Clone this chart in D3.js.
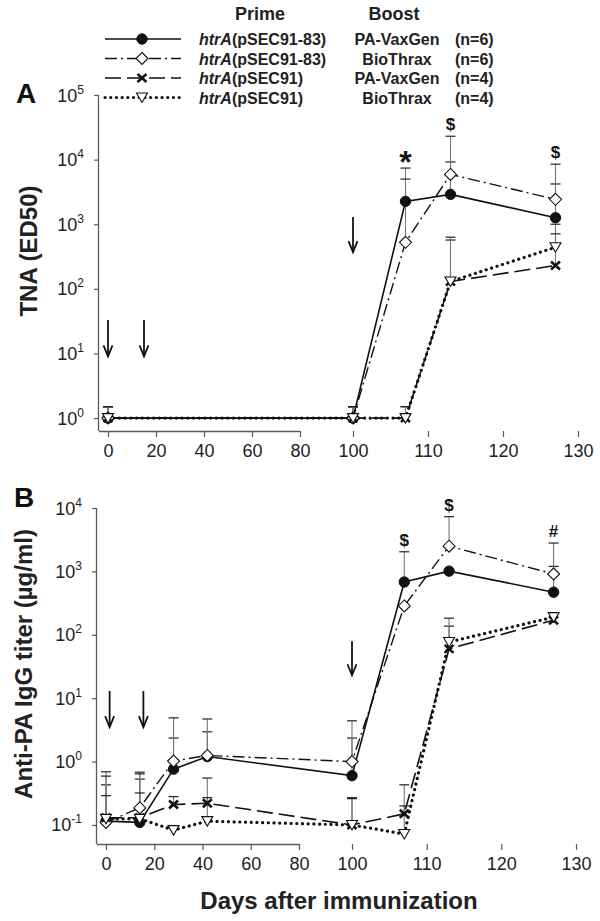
<!DOCTYPE html>
<html><head><meta charset="utf-8">
<script src="https://cdn.jsdelivr.net/npm/d3@7"></script>
<style>
body{margin:0;background:#fff;}
svg{display:block;font-family:"Liberation Sans",Arial,sans-serif;}
</style></head><body>
<svg id="chart" width="600" height="921"></svg>
<script>
// ---------- DATA ----------
const tickDays = [0,20,40,60,80,100,110,120,130];
const primeLabels = ["htrA(pSEC91-83)","htrA(pSEC91-83)","htrA(pSEC91)","htrA(pSEC91)"];
const boostLabels = ["PA-VaxGen","BioThrax","PA-VaxGen","BioThrax"];
const nLabels = ["(n=6)","(n=6)","(n=4)","(n=4)"];

// Panel A: TNA (ED50)
const daysA = [0,100,107,113,127];
const tnaS1 = [1,1,2260,2900,1260];
const tnaS2 = [1,1,525,5900,2430];
const tnaS3 = [1,1,1,130,230];
const tnaS4 = [1,1,1,130,440];
const tnaErrS1 = [1.5,1.5,7400,9200,4200];
const tnaErrS2 = [1.5,1.5,5000,23000,8500];
const tnaErrS3 = [1.5,1.5,1.5,570,1000];
const tnaErrS4 = [1.5,1.5,1.5,630,710];
const tnaTicks = [1,10,100,1000,10000,100000];
const tnaAnnot = [{day:107,label:"*"},{day:113,label:"$"},{day:127,label:"$"}];
const tnaArrows = [{day:0,from:33,to:9},{day:15,from:33,to:9},{day:100,from:1290,to:370}];

// Panel B: Anti-PA IgG titer
const daysB = [0,14,28,42,100,107,113,127];
const igS1 = [0.115,0.11,0.76,1.2,0.6,680,1010,470];
const igS2 = [0.11,0.186,1.02,1.25,1.0,285,2500,910];
const igS3 = [0.13,0.13,0.21,0.22,0.1,0.15,60,170];
const igS4 = [0.125,0.125,0.083,0.115,0.1,0.072,77,190];
const igErrS1 = [0.43,0.53,2.35,2.95,2.35,2040,null,1200];
const igErrS2 = [0.69,0.68,4.9,4.7,4.4,null,7300,2800];
const igErrS3 = [0.59,0.64,0.28,0.55,0.27,0.43,137,null];
const igErrS4 = [0.29,0.32,null,0.27,0.26,0.2,183,null];
const igTicks = [0.1,1,10,100,1000,10000];
const igAnnot = [{day:107,label:"$"},{day:113,label:"$"},{day:127,label:"#"}];
const igArrows = [{day:1.5,from:13,to:3.5},{day:15.5,from:13,to:3.5},{day:100,from:79,to:23}];

// ---------- STYLE ----------
const styles = [
  {dash:null, width:1.6, cap:"butt", marker:"circle"},
  {dash:"12,4,2,4", width:1.4, cap:"butt", marker:"diamond"},
  {dash:"16,6", width:1.6, cap:"butt", marker:"cross"},
  {dash:"0.1,5.6", width:3.2, cap:"round", marker:"triangle"}
];
const axisColor = "#5a5a5a";
const svg = d3.select("#chart");

function drawMarker(g, type, cx, cy){
  if(type==="circle"){
    g.append("circle").attr("cx",cx).attr("cy",cy).attr("r",5.2).attr("fill","#111").attr("stroke","#111");
  } else if(type==="diamond"){
    g.append("path").attr("d",`M${cx},${cy-6}L${cx+6},${cy}L${cx},${cy+6}L${cx-6},${cy}Z`)
      .attr("fill","#fff").attr("stroke","#111").attr("stroke-width",1.1);
  } else if(type==="triangle"){
    g.append("path").attr("d",`M${cx-5.5},${cy-4.5}L${cx+5.5},${cy-4.5}L${cx},${cy+5}Z`)
      .attr("fill","#fff").attr("stroke","#111").attr("stroke-width",1.1);
  } else {
    g.append("path").attr("d",`M${cx-4.5},${cy-4}L${cx+4.5},${cy+4}M${cx+4.5},${cy-4}L${cx-4.5},${cy+4}`)
      .attr("stroke","#111").attr("stroke-width",2.6).attr("fill","none");
  }
}

function panel(cfg){
  const {xRange, yRange, yDomain, days, series, errs, ticks, annot, arrows, axisX, yTitle, yTitleX, yTitleY, letter, letterX, letterY} = cfg;
  const x = d3.scaleLinear().domain([0,80,100,130]).range(xRange);
  const y = d3.scaleLog().domain(yDomain).range(yRange);
  const g = svg.append("g");

  const xa = g.append("g").attr("transform",`translate(0,${yRange[0]})`)
    .call(d3.axisBottom(x).tickValues(tickDays).tickSize(6).tickPadding(7).tickSizeOuter(0));
  xa.select(".domain").attr("d",`M${axisX},0.5H${xRange[1]}`).attr("stroke",axisColor).attr("stroke-width",1.3);
  xa.selectAll(".tick line").attr("stroke",axisColor).attr("stroke-width",1.2);
  xa.selectAll(".tick text").attr("font-size",18).attr("fill","#222").attr("font-family","Liberation Sans, Arial, sans-serif");

  const ya = g.append("g").attr("transform",`translate(${axisX},0)`)
    .call(d3.axisLeft(y).tickValues(ticks).tickSize(5).tickFormat("").tickSizeOuter(0));
  ya.select(".domain").attr("d",`M-0.5,${yRange[1]}V${yRange[0]}`).attr("stroke",axisColor).attr("stroke-width",1.3);
  ya.selectAll(".tick line").attr("stroke",axisColor).attr("stroke-width",1.2);
  ticks.forEach(t=>{
    const e = Math.round(Math.log10(t));
    const tx = g.append("text").attr("x",axisX-15).attr("y",y(t)+6.5).attr("text-anchor","end")
      .attr("font-size",18).attr("fill","#222");
    tx.append("tspan").text("10");
    tx.append("tspan").attr("font-size",12).attr("dy",-8).text(e);
  });

  series.forEach((vals,i)=>{
    const st = styles[i];
    const line = d3.line().x((d,j)=>x(days[j])).y(d=>y(d));
    g.append("path").datum(vals).attr("d",line).attr("fill","none").attr("stroke","#111")
      .attr("stroke-width",st.width).attr("stroke-dasharray",st.dash).attr("stroke-linecap",st.cap);
  });
  errs.forEach((ev,i)=>{
    ev.forEach((e,j)=>{
      if(e==null) return;
      const cx = x(days[j]);
      g.append("line").attr("x1",cx).attr("x2",cx).attr("y1",y(series[i][j])).attr("y2",y(e))
        .attr("stroke","#777").attr("stroke-width",1.1);
      g.append("line").attr("x1",cx-5).attr("x2",cx+5).attr("y1",y(e)).attr("y2",y(e))
        .attr("stroke","#222").attr("stroke-width",1.2);
    });
  });
  series.forEach((vals,i)=>{
    vals.forEach((v,j)=>drawMarker(g, styles[i].marker, x(days[j]), y(v)));
  });
  annot.forEach(a=>{
    const j = days.indexOf(a.day);
    const top = d3.max(errs.map((ev,i)=> ev[j]!=null ? ev[j] : series[i][j]));
    const cy = y(top) - 12;
    if(a.label==="*"){
      g.append("text").attr("x",x(a.day)).attr("y",cy+17).attr("text-anchor","middle")
        .attr("font-size",32).attr("font-weight","bold").attr("fill","#111").text("*");
    } else {
      g.append("text").attr("x",x(a.day)).attr("y",cy+6).attr("text-anchor","middle")
        .attr("font-size",17).attr("font-weight","bold").attr("fill","#111").text(a.label);
    }
  });
  arrows.forEach(a=>{
    const ax = x(a.day), y1 = y(a.from), y2 = y(a.to);
    g.append("line").attr("x1",ax).attr("x2",ax).attr("y1",y1).attr("y2",y2)
      .attr("stroke","#111").attr("stroke-width",1.8);
    g.append("path").attr("d",`M${ax-4.5},${y2-11}L${ax},${y2}L${ax+4.5},${y2-11}`)
      .attr("fill","none").attr("stroke","#111").attr("stroke-width",1.8);
  });
  g.append("text").attr("transform",`translate(${yTitleX},${yTitleY}) rotate(-90)`)
    .attr("text-anchor","middle").attr("font-size",24).attr("font-weight","bold").attr("fill","#222").text(yTitle);
  g.append("text").attr("x",letterX).attr("y",letterY).attr("text-anchor","middle")
    .attr("font-size",28).attr("font-weight","bold").attr("fill","#111").text(letter);
}

panel({xRange:[108,300,353,578], yRange:[431,95], yDomain:[Math.pow(10,-0.2),1e5],
  days:daysA, series:[tnaS1,tnaS2,tnaS3,tnaS4], errs:[tnaErrS1,tnaErrS2,tnaErrS3,tnaErrS4],
  ticks:tnaTicks, annot:tnaAnnot, arrows:tnaArrows, axisX:99,
  yTitle:"TNA (ED50)", yTitleX:37, yTitleY:251, letter:"A", letterX:26, letterY:103});

panel({xRange:[106,299,352,576], yRange:[844,508], yDomain:[Math.pow(10,-1.3),1e4],
  days:daysB, series:[igS1,igS2,igS3,igS4], errs:[igErrS1,igErrS2,igErrS3,igErrS4],
  ticks:igTicks, annot:igAnnot, arrows:igArrows, axisX:97,
  yTitle:"Anti-PA IgG titer (µg/ml)", yTitleX:32, yTitleY:664, letter:"B", letterX:24, letterY:507});

svg.append("text").attr("x",339).attr("y",909).attr("text-anchor","middle")
  .attr("font-size",24).attr("font-weight","bold").attr("fill","#222").text("Days after immunization");

// ---------- LEGEND ----------
const lg = svg.append("g");
lg.append("text").attr("x",260).attr("y",20).attr("text-anchor","middle").attr("font-size",18)
  .attr("font-weight","bold").attr("fill","#222").text("Prime");
lg.append("text").attr("x",394).attr("y",20).attr("text-anchor","middle").attr("font-size",18)
  .attr("font-weight","bold").attr("fill","#222").text("Boost");
primeLabels.forEach((p,i)=>{
  const ry = 39 + i*19.5;
  const st = styles[i];
  lg.append("line").attr("x1",105).attr("x2",181).attr("y1",ry).attr("y2",ry).attr("stroke","#111")
    .attr("stroke-width",st.width).attr("stroke-dasharray",st.dash).attr("stroke-linecap",st.cap);
  drawMarker(lg, st.marker, 142, ry);
  const m = p.match(/^(htrA)(.*)$/);
  const t = lg.append("text").attr("x",199).attr("y",ry+6).attr("font-size",16).attr("font-weight","bold").attr("fill","#222");
  t.append("tspan").attr("font-style","italic").text(m[1]);
  t.append("tspan").text(m[2]);
  lg.append("text").attr("x",397).attr("y",ry+6).attr("text-anchor","middle").attr("font-size",16)
    .attr("font-weight","bold").attr("fill","#222").text(boostLabels[i]);
  lg.append("text").attr("x",455).attr("y",ry+6).attr("font-size",16)
    .attr("font-weight","bold").attr("fill","#222").text(nLabels[i]);
});
</script>
</body></html>
